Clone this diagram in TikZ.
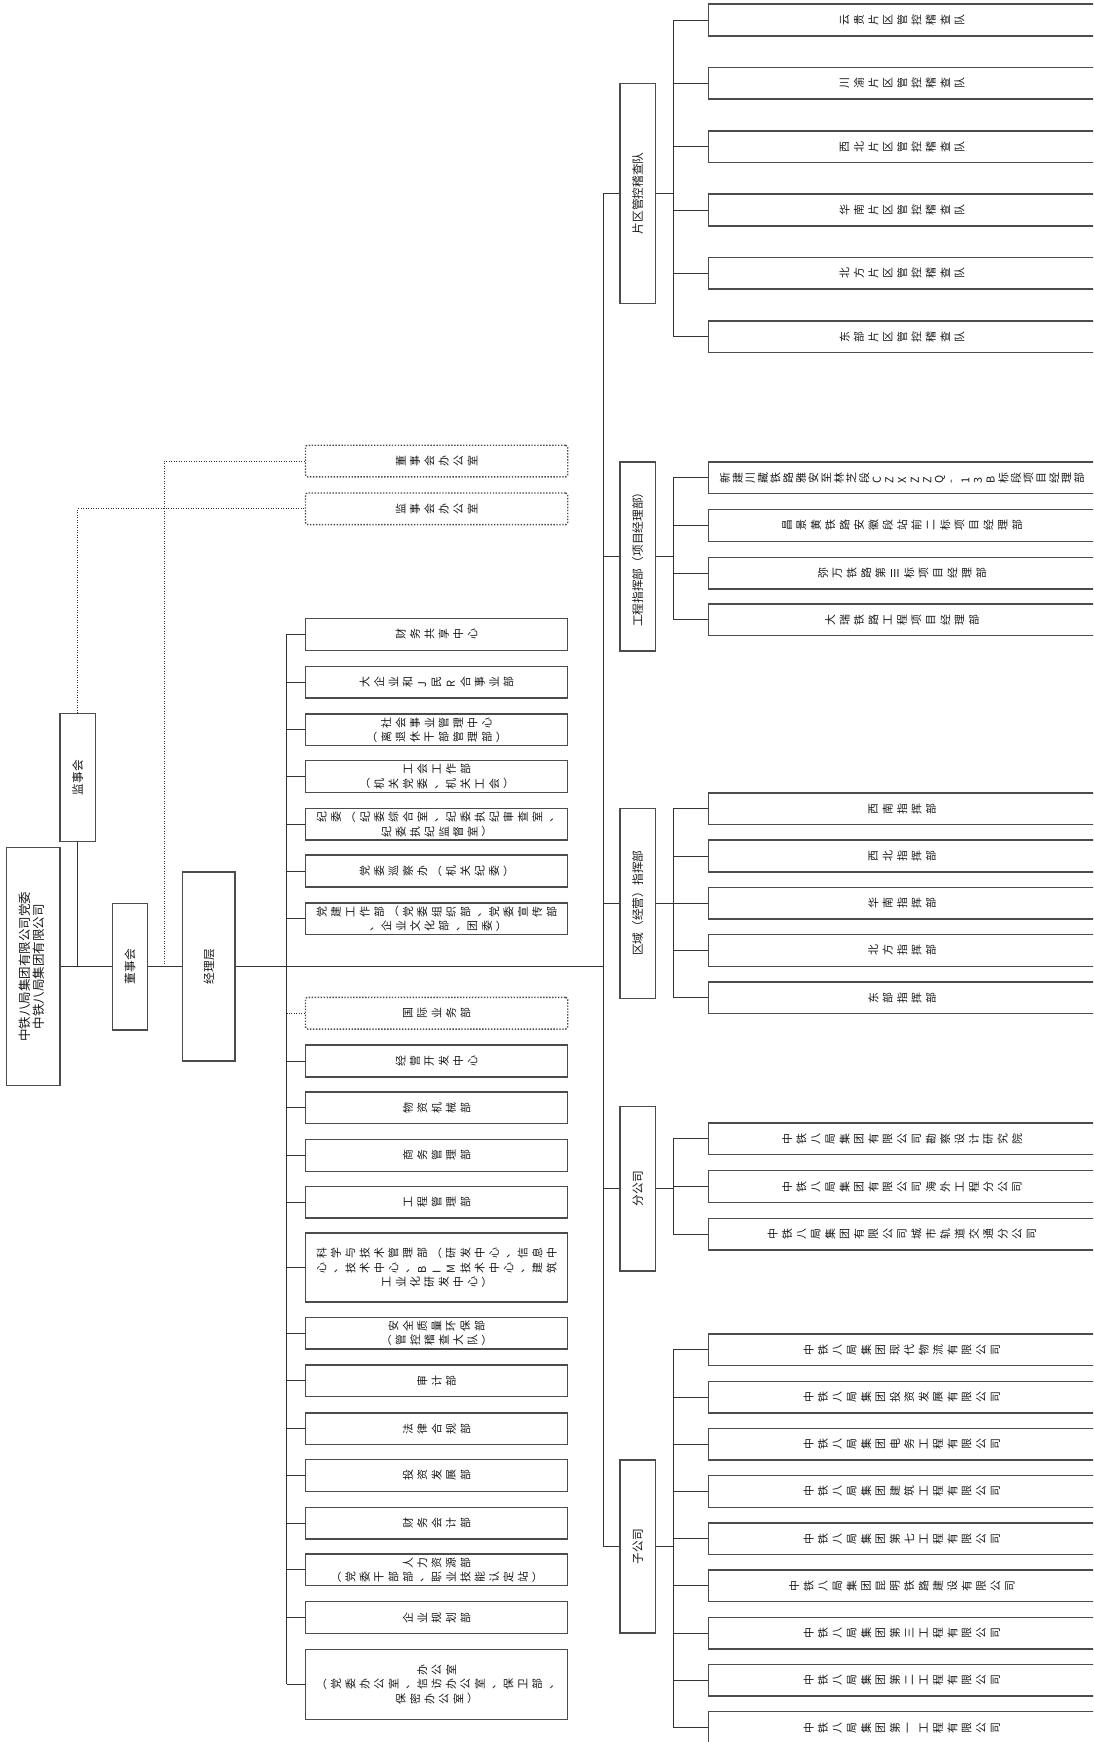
\documentclass[tikz,border=0pt]{standalone}
\usepackage{fontspec}
\setmainfont{Noto Sans CJK SC}
\usepackage{graphicx}
\usetikzlibrary{positioning,calc}

\newcommand\deptsize{\fontsize{7pt}{9.2pt}\selectfont}
\newcommand\grpsize{\fontsize{7.5pt}{9pt}\selectfont}
\newcommand\rootsize{\fontsize{8pt}{9.2pt}\selectfont}

% characters set one by one, each turned a quarter left
\makeatletter
\newlength\rcpitch
\def\rc@lp{（}\def\rc@rp{）}\def\rc@three{Ⅲ}
\def\rc@go{\@tfor\rc@c:=}
\newcommand\rchars[2][9.2pt]{\setlength\rcpitch{#1}\edef\rc@list{#2}%
  \expandafter\rc@go\rc@list\do{%
    \ifx\rc@c\rc@lp\makebox[\rcpitch]{\raisebox{.12em}{\rc@c}}\else
    \ifx\rc@c\rc@rp\makebox[\rcpitch]{\raisebox{.12em}{\rc@c}}\else
    \ifx\rc@c\rc@three\makebox[\rcpitch]{\raisebox{.12em}{\rc@c}}\else
    \makebox[\rcpitch]{\rotatebox{90}{\rc@c}}\fi\fi\fi}}
\makeatother

\tikzset{
box/.style={rectangle, draw=black!70, line width=0.9pt, inner sep=0pt, text=black!90},
dept/.style={box, minimum width=5.9cm, minimum height=0.7125cm, align=center, font=\deptsize},
dotbox/.style={dept, densely dotted, rounded corners=1.5pt},
leaf/.style={box, minimum width=8.7cm, minimum height=0.7125cm, font=\deptsize},
grp/.style={box, minimum width=0.8cm, font=\grpsize},
link/.style={draw=black!80, line width=0.6pt},
dotlink/.style={link, densely dotted},
}

\begin{document}
\begin{tikzpicture}[x=0.025cm, y=-0.025cm]
\clip (0,0) rectangle (984,1568);
%Nodes
\node[box, minimum width=1.2cm, minimum height=5.35cm, font=\rootsize] (root) at (30,870)
  {\rotatebox{90}{\begin{tabular}{@{}c@{}}中铁八局集团有限公司党委\\中铁八局集团有限公司\end{tabular}}};
\node[grp, minimum height=2.875cm] (jsh) at (70,700) {\rotatebox{90}{监事会}};
\node[grp, minimum height=2.85cm] (dsh) at (117,870) {\rotatebox{90}{董事会}};
\node[grp, minimum width=1.175cm, minimum height=4.25cm] (jly) at (188,870) {\rotatebox{90}{经理层}};

\node[dotbox] (dshb) at (393,415) {\rchars{董事会办公室}};
\node[dotbox] (jshb) at (393,458) {\rchars{监事会办公室}};

\node[dept] (d1) at (393,571) {\rchars{财务共享中心}};
\node[dept] (d2) at (393,614) {\rchars{大企业和J民R合事业部}};
\node[dept] (d3) at (393,657) {\rchars{社会事业管理中心}\\\rchars{（离退休干部管理部）}};
\node[dept] (d4) at (393,699) {\rchars{工会工作部}\\\rchars{（机关党委、机关工会）}};
\node[dept] (d5) at (393,742) {\rchars{纪委（纪委综合室、纪委执纪审查室、}\\\rchars{纪委执纪监督室）}};
\node[dept] (d6) at (393,784) {\rchars{党委巡察办（机关纪委）}};
\node[dept] (d7) at (393,827) {\rchars{党建工作部（党委组织部、党委宣传部}\\\rchars{、企业文化部、团委）}};
\node[dotbox] (gj) at (393,912) {\rchars{国际业务部}};
\node[dept] (d8) at (393,955) {\rchars{经营开发中心}};
\node[dept] (d9) at (393,997) {\rchars{物资机械部}};
\node[dept] (d10) at (393,1040) {\rchars{商务管理部}};
\node[dept] (d11) at (393,1082) {\rchars{工程管理部}};
\node[dept, minimum height=1.55cm] (d12) at (393,1141) {\rchars{科学与技术管理部（研发中心、信息中}\\\rchars{心、技术中心、BIM技术中心、建筑}\\\rchars{工业化研发中心）}};
\node[dept] (d13) at (393,1200) {\rchars{安全质量环保部}\\\rchars{（管控稽查大队）}};
\node[dept] (d14) at (393,1243) {\rchars{审计部}};
\node[dept] (d15) at (393,1286) {\rchars{法律合规部}};
\node[dept] (d16) at (393,1328) {\rchars{投资发展部}};
\node[dept] (d17) at (393,1371) {\rchars{财务会计部}};
\node[dept] (d18) at (393,1413) {\rchars{人力资源部}\\\rchars{（党委干部部、职业技能认定站）}};
\node[dept] (d19) at (393,1456) {\rchars{企业规划部}};
\node[dept, minimum height=1.575cm] (d20) at (393,1516) {\rchars{办公室}\\\rchars{（党委办公室、信访办公室、保卫部、}\\\rchars{保密办公室）}};

\node[grp, minimum height=4.95cm] (pq) at (574,174) {\rotatebox{90}{片区管控稽查队}};
\node[grp, minimum height=4.25cm] (gc) at (574,501) {\rotatebox{90}{工程指挥部（项目经理部）}};
\node[grp, minimum height=4.275cm] (qy) at (574,813) {\rotatebox{90}{区域（经营）指挥部}};
\node[grp, minimum height=3.7cm] (fgs) at (574,1070) {\rotatebox{90}{分公司}};
\node[grp, minimum height=3.9cm] (zgs) at (574,1392) {\rotatebox{90}{子公司}};

\coordinate (dsdot) at (148,870);
\coordinate (dbus) at (258,870);
\coordinate (rbus) at (543,870);
\coordinate (cbus) at (606,870);

\foreach \t [count=\i] in {云贵片区管控稽查队,川渝片区管控稽查队,西北片区管控稽查队,华南片区管控稽查队,北方片区管控稽查队,东部片区管控稽查队}{
  \node[leaf] (pq\i) at (812,{18+57*(\i-1)}) {\rchars{\t}};
  \draw[link] (pq\i.west) -- (pq\i.west -| cbus);
}
\node[leaf] (gc1) at (812,430) {\rchars[8.1pt]{新建川藏铁路雅安至林芝段CZXZZQ-13B标段项目经理部}};
\node[leaf] (gc2) at (812,473) {\rchars{昌景黄铁路安徽段站前二标项目经理部}};
\node[leaf] (gc3) at (812,516) {\rchars{弥万铁路第Ⅲ标项目经理部}};
\node[leaf] (gc4) at (812,558) {\rchars{大瑞铁路工程项目经理部}};
\foreach \i in {1,...,4}{\draw[link] (gc\i.west) -- (gc\i.west -| cbus);}
\foreach \t [count=\i] in {西南指挥部,西北指挥部,华南指挥部,北方指挥部,东部指挥部}{
  \node[leaf] (qy\i) at (812,{728+42.5*(\i-1)}) {\rchars{\t}};
  \draw[link] (qy\i.west) -- (qy\i.west -| cbus);
}
\foreach \t [count=\i] in {中铁八局集团有限公司勘察设计研究院,中铁八局集团有限公司海外工程分公司,中铁八局集团有限公司城市轨道交通分公司}{
  \node[leaf] (fgs\i) at (812,{1025+43*(\i-1)}) {\rchars{\t}};
  \draw[link] (fgs\i.west) -- (fgs\i.west -| cbus);
}
\foreach \t [count=\i] in {中铁八局集团现代物流有限公司,中铁八局集团投资发展有限公司,中铁八局集团电务工程有限公司,中铁八局集团建筑工程有限公司,中铁八局集团第七工程有限公司,中铁八局集团昆明铁路建设有限公司,中铁八局集团第三工程有限公司,中铁八局集团第二工程有限公司,中铁八局集团第一工程有限公司}{
  \node[leaf] (zgs\i) at (812,{1215+42.5*(\i-1)}) {\rchars{\t}};
  \draw[link] (zgs\i.west) -- (zgs\i.west -| cbus);
}

%Lines
\draw[link] (root.east) -- (dsh.west);
\draw[link] (jsh.south) -- (jsh.south |- root.east);
\draw[link] (dsh.east) -- (jly.west);
\draw[link] (jly.east) -- (rbus);
\draw[dotlink] (dsdot) |- (dshb.west);
\draw[dotlink] (jsh.north) |- (jshb.west);

\draw[link] (d1.west -| dbus) -- (d20.west -| dbus);
\foreach \n in {1,...,20}{\draw[link] (d\n.west) -- (d\n.west -| dbus);}
\draw[dotlink] (gj.west) -- (gj.west -| dbus);

\draw[link] (pq.west -| rbus) -- (zgs.west -| rbus);
\foreach \g/\m in {pq/6,gc/4,qy/5,fgs/3,zgs/9}{
  \draw[link] (\g.west) -- (\g.west -| rbus);
  \draw[link] (\g.east) -- (\g.east -| cbus);
  \draw[link] (\g1.west -| cbus) -- (\g\m.west -| cbus);
}
\end{tikzpicture}
\end{document}
